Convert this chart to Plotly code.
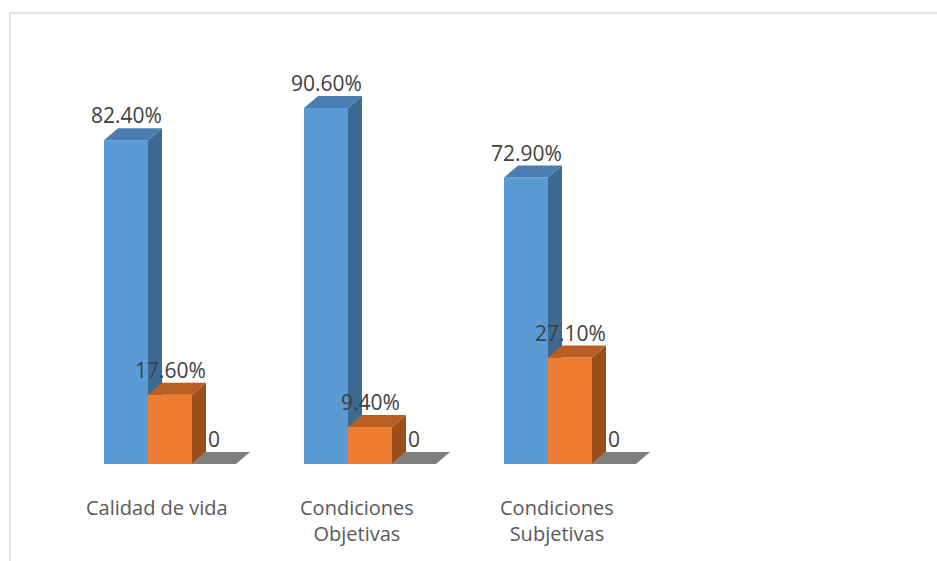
import plotly.graph_objects as go

categories = ["Calidad de vida", "Condiciones<br>Objetivas", "Condiciones<br>Subjetivas"]
serie_si = [82.4, 90.6, 72.9]
serie_no = [17.6, 9.4, 27.1]
serie_cero = [0, 0, 0]
labels_si = ["82.40%", "90.60%", "72.90%"]
labels_no = ["17.60%", "9.40%", "27.10%"]
labels_cero = ["0", "0", "0"]

W = 0.22      # bar width in category units
DX = 0.07     # 3D depth offset (x units)
DY = 3.05     # 3D depth offset (y units)

series = [
    (serie_si, labels_si, -0.22, "#5b9bd5", "#3d6a93", "#4a7db2"),
    (serie_no, labels_no, 0.0, "#ed7d31", "#9c4f1b", "#bb5e21"),
    (serie_cero, labels_cero, 0.22, "#7f7f7f", "#6a6a6a", "#7f7f7f"),
]

fig = go.Figure()
annotations = []

def add_poly(xs, ys, color):
    fig.add_trace(go.Scatter(x=xs, y=ys, mode="lines", fill="toself",
                             fillcolor=color, line=dict(width=0, color=color),
                             hoverinfo="skip", showlegend=False))

for vals, labs, off, cf, cs, ct in series:
    fx, fy, sx, sy, tx, ty = [], [], [], [], [], []
    for i, h in enumerate(vals):
        x0 = i + off - W / 2
        x1 = i + off + W / 2
        if h > 0:
            fx += [x0, x1, x1, x0, x0, None]
            fy += [0, 0, h, h, 0, None]
            sx += [x1, x1 + DX, x1 + DX, x1, x1, None]
            sy += [0, DY, h + DY, h, 0, None]
        tx += [x0, x1, x1 + DX, x0 + DX, x0, None]
        ty += [h, h, h + DY, h + DY, h, None]
        annotations.append(dict(x=i + off, y=h, text=labs[i], showarrow=False,
                                yshift=25, xanchor="center", yanchor="middle",
                                font=dict(family="Open Sans", size=21, color="#404040")))
    if fx:
        add_poly(fx, fy, cf)
        add_poly(sx, sy, cs)
    add_poly(tx, ty, ct)

for i, c in enumerate(categories):
    annotations.append(dict(x=i, y=0, text=c, showarrow=False, xshift=-13,
                            yshift=-28, xanchor="center", yanchor="top",
                            font=dict(family="Open Sans", size=20, color="#595959")))

fig.update_layout(
    width=937, height=561,
    margin=dict(l=0, r=0, t=0, b=0),
    paper_bgcolor="white", plot_bgcolor="white",
    xaxis=dict(range=[-0.85, 3.835], visible=False, fixedrange=True),
    yaxis=dict(range=[-24.68, 118.07], visible=False, fixedrange=True),
    annotations=annotations,
    shapes=[
        dict(type="line", xref="paper", yref="paper", x0=10/937, x1=1.0,
             y0=1 - 13/561, y1=1 - 13/561, line=dict(color="#d9d9d9", width=1.5)),
        dict(type="line", xref="paper", yref="paper", x0=10/937, x1=10/937,
             y0=0, y1=1 - 13/561, line=dict(color="#d9d9d9", width=1.5)),
    ],
    showlegend=False,
)

fig.write_html("out.html")
